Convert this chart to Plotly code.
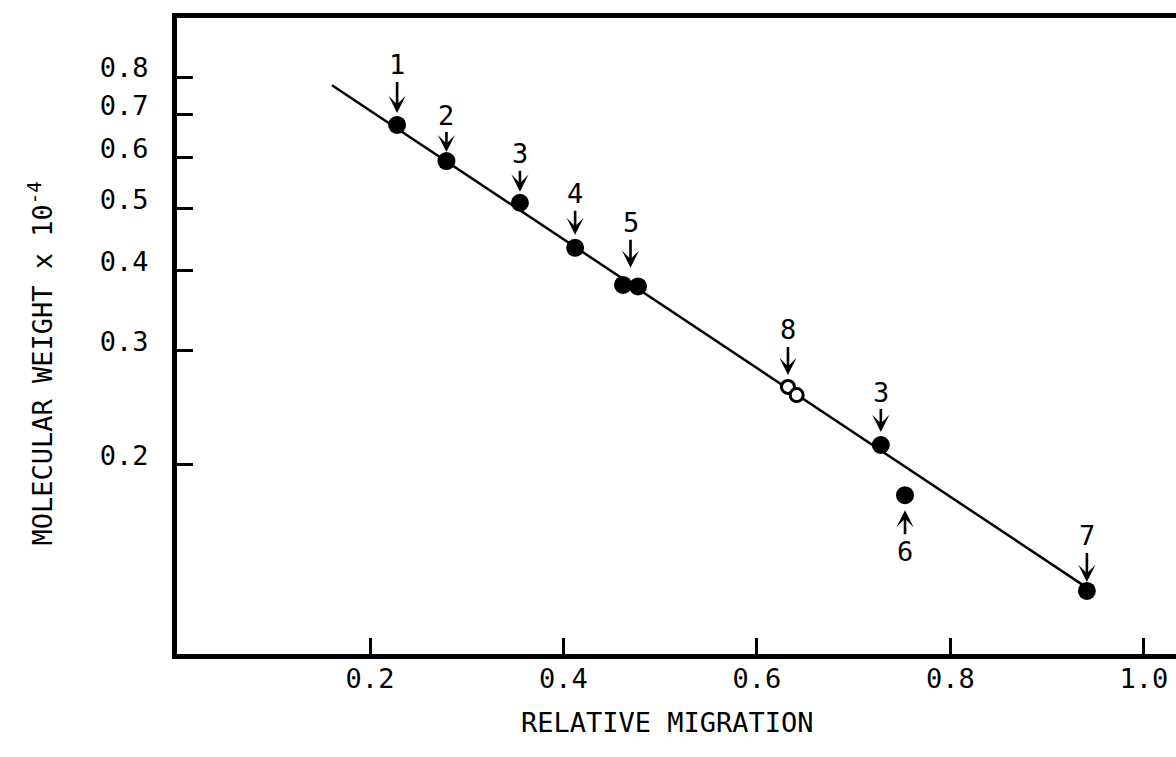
import math
import plotly.graph_objects as go

# ---- data ----
migration_filled = [0.228, 0.279, 0.355, 0.412, 0.4615, 0.477, 0.728, 0.753, 0.941]
mw_filled = [0.674, 0.592, 0.510, 0.434, 0.380, 0.378, 0.2142, 0.179, 0.127]

migration_open = [0.632, 0.641]
mw_open = [0.2637, 0.2561]

fit_migration = [0.1607, 0.937]
fit_mw = [0.777, 0.1297]

x_tick_vals = [0.2, 0.4, 0.6, 0.8, 1.0]
x_tick_text = ["0.2", "0.4", "0.6", "0.8", "1.0"]
y_tick_vals = [0.2, 0.3, 0.4, 0.5, 0.6, 0.7, 0.8]
y_tick_text = ["0.2", "0.3", "0.4", "0.5", "0.6", "0.7", "0.8"]

# labels: (text, series, point indices the arrow refers to)
point_labels = [
    ("1", "filled", [0]),
    ("2", "filled", [1]),
    ("3", "filled", [2]),
    ("4", "filled", [3]),
    ("5", "filled", [4, 5]),
    ("8", "open", [0]),
    ("3", "filled", [6]),
    ("6", "filled", [7]),
    ("7", "filled", [8]),
]
# styling of the label arrows (pixel offsets / standoffs)
label_ay = [-60, -46, -49, -54, -63, -57, -53, 56, -55]
label_standoff = [12, 9, 11, 13, 18, 12, 13, 15, 9]

FONT = "DejaVu Sans Mono"
FS = 27

fig = go.Figure()

fig.add_trace(go.Scatter(
    x=fit_migration, y=fit_mw, mode="lines",
    line=dict(color="black", width=2.5), showlegend=False, hoverinfo="skip"))

fig.add_trace(go.Scatter(
    x=migration_filled, y=mw_filled, mode="markers",
    marker=dict(symbol="circle", size=18, color="black", line=dict(width=0)),
    showlegend=False))

fig.add_trace(go.Scatter(
    x=migration_open, y=mw_open, mode="markers",
    marker=dict(symbol="circle", size=13, color="white",
                line=dict(color="black", width=3)),
    showlegend=False))

series = {"filled": (migration_filled, mw_filled), "open": (migration_open, mw_open)}
annotations = []
for (txt, s, idx), ay, so in zip(point_labels, label_ay, label_standoff):
    xs, ys = series[s]
    px = sum(xs[i] for i in idx) / len(idx)
    py = sum(math.log10(ys[i]) for i in idx) / len(idx)
    annotations.append(dict(
        x=px, y=py, xref="x", yref="y", text=txt,
        showarrow=True, ax=0, ay=ay, standoff=so,
        arrowhead=3, arrowsize=1.1, arrowwidth=2.6, arrowcolor="black",
        font=dict(family=FONT, size=FS, color="black")))

# axis titles
annotations.append(dict(
    text="RELATIVE MIGRATION", xref="paper", yref="paper",
    x=0.4905, y=-0.1077, xanchor="center", yanchor="middle", showarrow=False,
    font=dict(family=FONT, size=FS, color="black")))
annotations.append(dict(
    text="MOLECULAR WEIGHT x 10<sup>-4</sup>", xref="paper", yref="paper",
    x=-0.1371, y=0.4568, xanchor="center", yanchor="middle", showarrow=False,
    textangle=-90, font=dict(family=FONT, size=FS, color="black")))

fig.update_layout(
    width=1176, height=757,
    margin=dict(l=177, r=0, t=18, b=103, pad=0),
    paper_bgcolor="white", plot_bgcolor="white",
    font=dict(family=FONT, size=FS, color="black"),
    annotations=annotations,
    showlegend=False,
)

fig.update_xaxes(
    range=[0.0005, 1.0331], showgrid=False, zeroline=False,
    showline=True, linewidth=5, linecolor="black", mirror=True,
    ticks="inside", ticklen=16, tickwidth=3, tickcolor="black",
    tickvals=x_tick_vals, ticktext=x_tick_text,
    tickfont=dict(family=FONT, size=FS, color="black"),
    ticklabelstandoff=-3, automargin=False,
)

fig.update_yaxes(
    type="log", range=[-0.9942, -0.0051], showgrid=False, zeroline=False,
    showline=True, linewidth=5, linecolor="black", mirror=False,
    ticks="inside", ticklen=16, tickwidth=3, tickcolor="black",
    tickvals=y_tick_vals, ticktext=y_tick_text,
    tickfont=dict(family=FONT, size=FS, color="black"),
    ticklabelshift=-9, ticklabelstandoff=18, automargin=False,
)

fig.write_html(
    "out.html",
    config={"displayModeBar": False},
    post_script="document.body.style.margin='0';document.body.style.overflow='hidden';",
)
